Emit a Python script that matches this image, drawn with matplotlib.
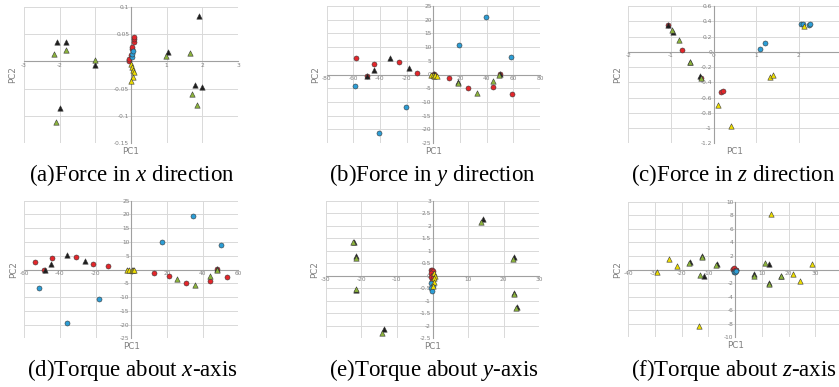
import numpy as np
import matplotlib
matplotlib.use("Agg")
import matplotlib.pyplot as plt
from matplotlib.ticker import FuncFormatter

plt.rcParams['axes.unicode_minus'] = False
plt.rcParams['mathtext.fontset'] = 'custom'
plt.rcParams['mathtext.rm'] = 'Liberation Serif'
plt.rcParams['mathtext.it'] = 'Liberation Serif:italic'

# ---------------- data ----------------
# (a) Force in x direction
a_red_x = [-0.06, -0.05, -0.01, 0.02, 0.03, 0.08, 0.09, 0.09]
a_red_y = [0.0, 0.004, 0.011, 0.022, 0.026, 0.036, 0.041, 0.045]
a_blue_x = [0.02, 0.03, 0.045]
a_blue_y = [0.008, 0.014, 0.019]
a_black_x = [1.90, -2.07, -1.81, -1.01, 1.05, 1.80, 1.99, -1.98]
a_black_y = [0.083, 0.035, 0.035, -0.007, 0.018, -0.044, -0.047, -0.086]
a_green_x = [-2.15, -1.83, -1.02, 0.99, 1.66, 1.71, 1.85, -2.09]
a_green_y = [0.014, 0.021, 0.002, 0.010, 0.016, -0.060, -0.080, -0.111]
a_yellow_x = [0.01, 0.035, 0.065, 0.08, 0.055, -0.01]
a_yellow_y = [-0.005, -0.010, -0.015, -0.020, -0.028, -0.036]

# (b) Force in y direction
b_red_x = [-57.8, -44.5, -25.8, -12, -49.8, 12, 26, 44.8, 58.8, 49.8, 0, 0.5, -0.5]
b_red_y = [6.1, 4.0, 4.5, 0.7, -0.6, -1.1, -5.0, -4.4, -7.0, 0.1, 0, 0.3, -0.2]
b_blue_x = [39.5, 19.3, 58, -58.8, -20.5, -40.8, 0]
b_blue_y = [21, 10.9, 6.3, -4.3, -11.8, -21.5, -0.5]
b_black_x = [-32.5, -18, -44.5, -49.5, 49.8, 18.3, 0.5]
b_black_y = [6.0, 2.3, 1.8, -0.7, 0.1, -2.9, 0.2]
b_green_x = [18.3, 32.8, 44.5, 49.5]
b_green_y = [-3.2, -6.7, -2.5, 0]
b_yellow_x = [-2, -0.5, 0.5, 1.5, 2.5]
b_yellow_y = [0, -0.3, -0.5, 0, -0.4]

# (c) Force in z direction
c_red_x = [-1.08, -0.73, -0.29, 0.18, 0.22]
c_red_y = [0.35, 0.02, -0.34, -0.525, -0.515]
c_blue_x = [1.10, 1.21, 2.05, 2.10, 2.23, 2.25]
c_blue_y = [0.03, 0.12, 0.37, 0.37, 0.35, 0.37]
c_black_x = [-1.06, -0.96, -0.55, -0.32]
c_black_y = [0.355, 0.26, -0.135, -0.32]
c_green_x = [-0.97, -0.82, -0.55, -0.30]
c_green_y = [0.28, 0.16, -0.14, -0.35]
c_yellow_x = [2.13, 1.33, 1.39, 0.10, 0.41]
c_yellow_y = [0.34, -0.33, -0.30, -0.70, -0.975]

# (d) Torque about x-axis
d_red_x = [-53.8, -44.7, -31.2, -21.7, -13.3, 12.5, 21.1, 30.7, 44.1, 53.6, 48.2, -48.8]
d_red_y = [2.7, 4.1, 4.6, 2.1, 1.3, -1.2, -2.2, -4.9, -4.1, -2.8, 0.2, -0.1]
d_blue_x = [34.8, 17, 50.5, -52, -18.3, -36.3]
d_blue_y = [19.4, 10.1, 9.0, -6.9, -10.6, -19.5]
d_black_x = [-48.6, -44.9, -35.9, -25.8, 48.2]
d_black_y = [0, 1.9, 5.3, 3.2, 0.1]
d_green_x = [25.4, 35.5, 44.1, 48.0]
d_green_y = [-3.4, -5.6, -2.2, -0.1]
d_yellow_x = [-2.2, -1.3, 0.4, 0.7, 1.5]
d_yellow_y = [-0.1, 0, -0.1, 0, -0.1]

# (e) Torque about y-axis
e_red_x = [-0.5, -0.2, 0.1, -0.4, 0.0, -0.3, 0.2, -0.1]
e_red_y = [0.25, 0.22, 0.2, 0.1, 0.05, -0.05, -0.1, -0.2]
e_blue_x = [-0.3, 0.0, -0.4, -0.2]
e_blue_y = [-0.3, -0.4, -0.5, -0.6]
e_black_x = [-22.1, -21.6, -21.5, -13.6, 14.2, 22.8, 23.0, 23.6]
e_black_y = [1.36, 0.77, -0.55, -2.12, 2.25, 0.73, -0.68, -1.23]
e_green_x = [-22.2, -21.5, -21.6, -14.2, 13.6, 22.7, 22.9, 23.5]
e_green_y = [1.33, 0.72, -0.51, -2.29, 2.15, 0.67, -0.72, -1.27]
e_yellow_x = [0.5, 0.7, 0.4, 0.3, 0.2]
e_yellow_y = [0.1, 0.0, -0.1, -0.25, -0.4]

# (f) Torque about z-axis
f_red_x = [-0.8, -0.3, 0.2, 0.5, -0.5]
f_red_y = [0.1, 0.2, 0.0, -0.1, -0.2]
f_blue_x = [-0.5, 0.0, 0.4]
f_blue_y = [-0.3, -0.4, -0.2]
f_black_x = [-12.3, -17, -6.9, -11.7, 6.9, 12.5, 12.6, 17.1]
f_black_y = [2.0, 1.08, 0.74, -0.9, -0.7, 0.8, -2.0, -0.9]
f_green_x = [-12.5, -17.1, -7.0, -13, 7.0, 11.2, 12.6, 17.1]
f_green_y = [1.86, 0.93, 0.6, -0.8, -1.0, 0.9, -2.1, -1.0]
f_yellow_x = [13.3, -24.6, -21.7, -29.1, 28.8, 21.7, 24.4, -13.6]
f_yellow_y = [8.2, 1.57, 0.5, -0.4, 0.83, -0.6, -1.7, -8.4]

# axis ticks
a_xticks = [-3, -2, -1, 0, 1, 2, 3]
a_yticks = [-0.15, -0.1, -0.05, 0, 0.05, 0.1]
b_xticks = [-80, -60, -40, -20, 0, 20, 40, 60, 80]
b_yticks = [-25, -20, -15, -10, -5, 0, 5, 10, 15, 20, 25]
c_xticks = [-2, -1, 0, 1, 2, 3]
c_xlabels = ['-2', '-1', '0', '1', '2', '']
c_yticks = [-1.2, -1, -0.8, -0.6, -0.4, -0.2, 0, 0.2, 0.4, 0.6]
d_xticks = [-60, -40, -20, 0, 20, 40, 60]
d_yticks = [-25, -20, -15, -10, -5, 0, 5, 10, 15, 20, 25]
e_xticks = [-30, -20, -10, 0, 10, 20, 30]
e_yticks = [-2.5, -2, -1.5, -1, -0.5, 0, 0.5, 1, 1.5, 2, 2.5, 3]
f_xticks = [-40, -30, -20, -10, 0, 10, 20, 30, 40]
f_yticks = [-10, -8, -6, -4, -2, 0, 2, 4, 6, 8, 10]

captions = ["(a)Force in $x$ direction", "(b)Force in $y$ direction",
            "(c)Force in $z$ direction", "(d)Torque about $x$-axis",
            "(e)Torque about $y$-axis", "(f)Torque about $z$-axis"]

# ---------------- styling ----------------
W, H = 839, 387
fig = plt.figure(figsize=(W / 100, H / 100), dpi=100)

RED = '#E3262B'
BLUE = '#2D9ED6'
BLACK = '#1E1E1E'
GREEN = '#8CB43C'
YELLOW = '#EEDD00'
EDGE = '#3a3a3a'
GRID = '#D9D9D9'
AXC = '#A0A0A0'
TXT = '#7F7F7F'

def px_axes(x0, y0, x1, y1):
    return fig.add_axes([x0 / W, 1 - y1 / H, (x1 - x0) / W, (y1 - y0) / H])

def style(ax, xt, yt, xlabels=None):
    ax.set_xlim(xt[0], xt[-1])
    ax.set_ylim(yt[0], yt[-1])
    ax.set_xticks(xt)
    ax.set_yticks(yt)
    fmt = FuncFormatter(lambda v, p: ('%g' % round(v, 4)))
    if xlabels is None:
        ax.xaxis.set_major_formatter(fmt)
    else:
        ax.set_xticklabels(xlabels)
    ax.yaxis.set_major_formatter(fmt)
    ax.grid(True, color=GRID, lw=0.7)
    for gl in ax.get_xgridlines() + ax.get_ygridlines():
        gl.set_clip_on(False)
    ax.set_axisbelow(True)
    for s in ['top', 'right']:
        ax.spines[s].set_visible(False)
    ax.spines['left'].set_position(('data', 0))
    ax.spines['bottom'].set_position(('data', 0))
    for s in ['left', 'bottom']:
        ax.spines[s].set_color(AXC)
        ax.spines[s].set_linewidth(0.8)
        ax.spines[s].set_zorder(1.5)
    ax.tick_params(length=0, labelsize=4.2, labelcolor=TXT, pad=1.2)
    ax.patch.set_visible(False)
    ax.text(0.5, -0.03, 'PC1', transform=ax.transAxes, ha='center', va='top',
            fontsize=6.3, color=TXT)
    ax.text(-0.03, 0.5, 'PC2', transform=ax.transAxes, ha='right', va='center',
            fontsize=6.3, color=TXT, rotation=90)

def pts(ax, rx, ry, bx, by, kx, ky, gx, gy, yx, yy):
    kw = dict(edgecolors=EDGE, linewidths=0.4, zorder=3, clip_on=False)
    ax.scatter(rx, ry, s=13, marker='o', c=RED, **kw)
    ax.scatter(bx, by, s=13, marker='o', c=BLUE, **kw)
    ax.scatter(kx, ky, s=15, marker='^', c=BLACK, **kw)
    ax.scatter(gx, gy, s=15, marker='^', c=GREEN, **kw)
    ax.scatter(yx, yy, s=15, marker='^', c=YELLOW, **kw)

axa = px_axes(24, 7, 238, 143)
style(axa, a_xticks, a_yticks)
pts(axa, a_red_x, a_red_y, a_blue_x, a_blue_y, a_black_x, a_black_y,
    a_green_x, a_green_y, a_yellow_x, a_yellow_y)

axb = px_axes(326.7, 6, 540, 143)
style(axb, b_xticks, b_yticks)
pts(axb, b_red_x, b_red_y, b_blue_x, b_blue_y, b_black_x, b_black_y,
    b_green_x, b_green_y, b_yellow_x, b_yellow_y)

axc = px_axes(628.3, 6, 841.5, 143.3)
style(axc, c_xticks, c_yticks, c_xlabels)
pts(axc, c_red_x, c_red_y, c_blue_x, c_blue_y, c_black_x, c_black_y,
    c_green_x, c_green_y, c_yellow_x, c_yellow_y)

axd = px_axes(24.3, 200.7, 238.3, 338.3)
style(axd, d_xticks, d_yticks)
pts(axd, d_red_x, d_red_y, d_blue_x, d_blue_y, d_black_x, d_black_y,
    d_green_x, d_green_y, d_yellow_x, d_yellow_y)

axe = px_axes(325.7, 200.7, 539.3, 338.3)
style(axe, e_xticks, e_yticks)
pts(axe, e_red_x, e_red_y, e_blue_x, e_blue_y, e_black_x, e_black_y,
    e_green_x, e_green_y, e_yellow_x, e_yellow_y)

axf = px_axes(628.3, 201.7, 842, 337.3)
style(axf, f_xticks, f_yticks)
pts(axf, f_red_x, f_red_y, f_blue_x, f_blue_y, f_black_x, f_black_y,
    f_green_x, f_green_y, f_yellow_x, f_yellow_y)

cap_pos = [(29, 175), (329, 175), (631, 175), (27, 370), (329, 370), (631, 370)]
for (cx, cy), cap in zip(cap_pos, captions):
    fig.text(cx / W, 1 - cy / H, cap, ha='left', va='center',
             fontsize=16.5, family='Liberation Serif', color='black')

fig.savefig('out.png', dpi=100)
